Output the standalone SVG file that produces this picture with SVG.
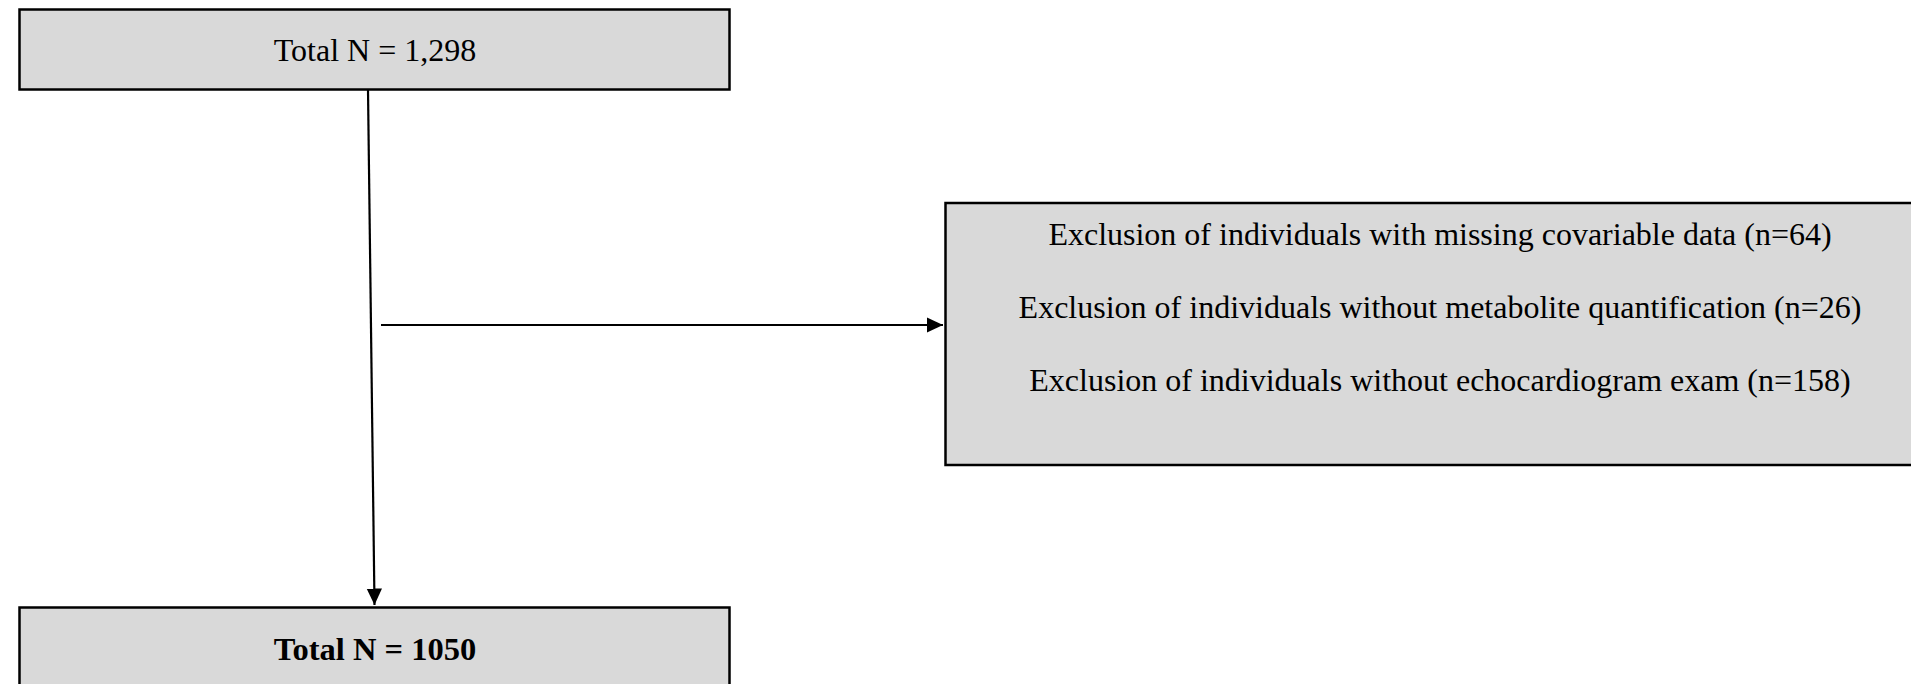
<svg xmlns="http://www.w3.org/2000/svg" width="1911" height="684" viewBox="0 0 1911 684">
<defs>
<style>
.box{fill:#d9d9d9;stroke:#000;stroke-width:2.5}
.t{font-family:"Liberation Serif","Times New Roman",serif;font-size:32px;fill:#000;text-anchor:middle}
.b{font-weight:bold;font-size:32.5px}
.c{stroke:#000;stroke-width:2.2;fill:none}
</style>
<marker id="ah" markerWidth="8" markerHeight="8" refX="7.5" refY="3.5" orient="auto" markerUnits="strokeWidth">
<path d="M0,0 L7.5,3.5 L0,7 Z" fill="#000"/>
</marker>
</defs>
<rect width="1911" height="684" fill="#fff"/>
<g id="connectors">
<line class="c" x1="368" y1="90" x2="374.5" y2="605" marker-end="url(#ah)"/>
<line class="c" x1="381" y1="325" x2="943" y2="325" marker-end="url(#ah)"/>
</g>
<g id="node-total">
<rect class="box" x="19.5" y="9.5" width="710" height="80"/>
<text class="t" x="375" y="61">Total N = 1,298</text>
</g>
<g id="node-exclusion">
<rect class="box" x="945.5" y="203" width="1000" height="262"/>
<text class="t" x="1440" y="245">Exclusion of individuals with missing covariable data (n=64)</text>
<text class="t" x="1440" y="318">Exclusion of individuals without metabolite quantification (n=26)</text>
<text class="t" x="1440" y="391">Exclusion of individuals without echocardiogram exam (n=158)</text>
</g>
<g id="node-final">
<rect class="box" x="19.5" y="607.5" width="710" height="100"/>
<text class="t b" x="375" y="660">Total N = 1050</text>
</g>
</svg>
